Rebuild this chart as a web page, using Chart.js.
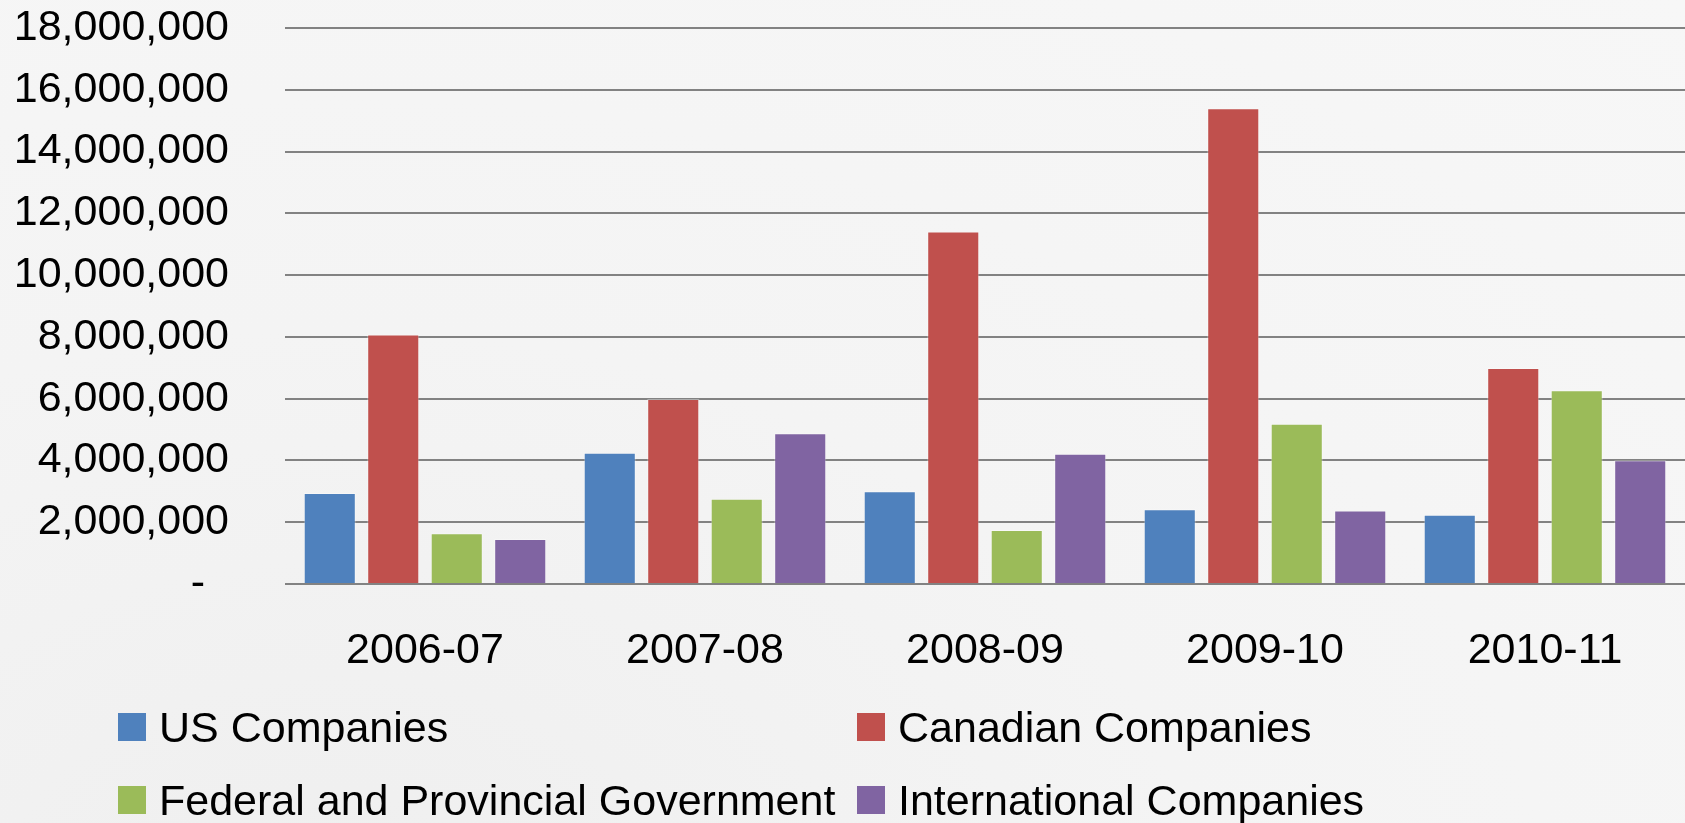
<!DOCTYPE html>
<html>
<head>
<meta charset="utf-8">
<script src="https://cdn.jsdelivr.net/npm/chart.js@4.4.1/dist/chart.umd.min.js"></script>
<style>
  html, body { margin: 0; padding: 0; }
  body {
    width: 1685px; height: 823px; overflow: hidden; position: relative;
    background: radial-gradient(ellipse at 20% 110%, #efefef 0%, #f4f4f4 45%, #f7f7f7 100%);
    font-family: "Liberation Sans", Arial, sans-serif;
  }
  #chart-box { position: absolute; left: 0; top: 0; width: 1685px; height: 823px; }
  #legend { position: absolute; left: 0; top: 0; width: 1685px; height: 823px; pointer-events: none; }
  .item { position: absolute; display: flex; align-items: center; font-size: 43px; color: #000; white-space: nowrap; }
  .swatch { width: 28px; height: 28px; margin-right: 13px; }
</style>
</head>
<body>
<div id="chart-box"><canvas id="chart" width="1685" height="823"></canvas></div>
<div id="legend"></div>
<script>
var years = ["2006-07", "2007-08", "2008-09", "2009-10", "2010-11"];
var usCompanies = [2950000, 4250000, 3000000, 2420000, 2240000];
var canadianCompanies = [8080000, 5990000, 11410000, 15400000, 6990000];
var governments = [1640000, 2760000, 1750000, 5190000, 6270000];
var internationalCompanies = [1460000, 4880000, 4220000, 2380000, 4010000];
var seriesNames = ["US Companies", "Canadian Companies", "Federal and Provincial Government", "International Companies"];
var seriesColors = ["#4f81bd", "#c0504d", "#9bbb59", "#8064a2"];
var yTicks = [0, 2000000, 4000000, 6000000, 8000000, 10000000, 12000000, 14000000, 16000000, 18000000];

var allSeries = [usCompanies, canadianCompanies, governments, internationalCompanies];
var datasets = allSeries.map(function (vals, i) {
    return {
        label: seriesNames[i],
        data: vals,
        backgroundColor: seriesColors[i],
        borderColor: "rgba(255,255,255,0.35)",
        borderWidth: 1,
        categoryPercentage: 0.907,
        barPercentage: 0.82
    };
});

function fmt(v) {
    if (v === 0) return "-  ";
    return v.toLocaleString("en-US");
}

var ctx = document.getElementById("chart").getContext("2d");
new Chart(ctx, {
    type: "bar",
    data: { labels: years, datasets: datasets },
    options: {
        responsive: false,
        animation: false,
        layout: { padding: { top: 28, right: 0, left: 0, bottom: 0 } },
        plugins: {
            legend: { display: false },
            tooltip: { enabled: false }
        },
        scales: {
            x: {
                grid: { display: false, drawTicks: false },
                border: { display: false },
                ticks: {
                    color: "#000",
                    font: { family: "Liberation Sans", size: 43 },
                    padding: 41
                },
                afterFit: function (s) { s.height = 239; }
            },
            y: {
                min: 0,
                max: 18000000,
                afterBuildTicks: function (s) {
                    s.ticks = yTicks.map(function (v) { return { value: v }; });
                },
                grid: { color: "#828282", lineWidth: 2, drawTicks: false },
                border: { display: false },
                ticks: {
                    color: "#000",
                    font: { family: "Liberation Sans", size: 43 },
                    padding: 56,
                    callback: function (v) { return fmt(v); }
                },
                afterFit: function (s) {
                    s.width = 285;
                    s.paddingTop = 0;
                    s.paddingBottom = 0;
                }
            }
        }
    }
});

// legend laid out in two aligned columns
var legendPos = [[118, 727], [857, 727], [118, 800], [857, 800]];
var legend = document.getElementById("legend");
seriesNames.forEach(function (name, i) {
    var item = document.createElement("div");
    item.className = "item";
    item.style.left = legendPos[i][0] + "px";
    item.style.top = (legendPos[i][1] - 26) + "px";
    item.style.height = "52px";
    var sw = document.createElement("span");
    sw.className = "swatch";
    sw.style.background = seriesColors[i];
    var t = document.createElement("span");
    t.textContent = name;
    item.appendChild(sw);
    item.appendChild(t);
    legend.appendChild(item);
});
</script>
</body>
</html>
